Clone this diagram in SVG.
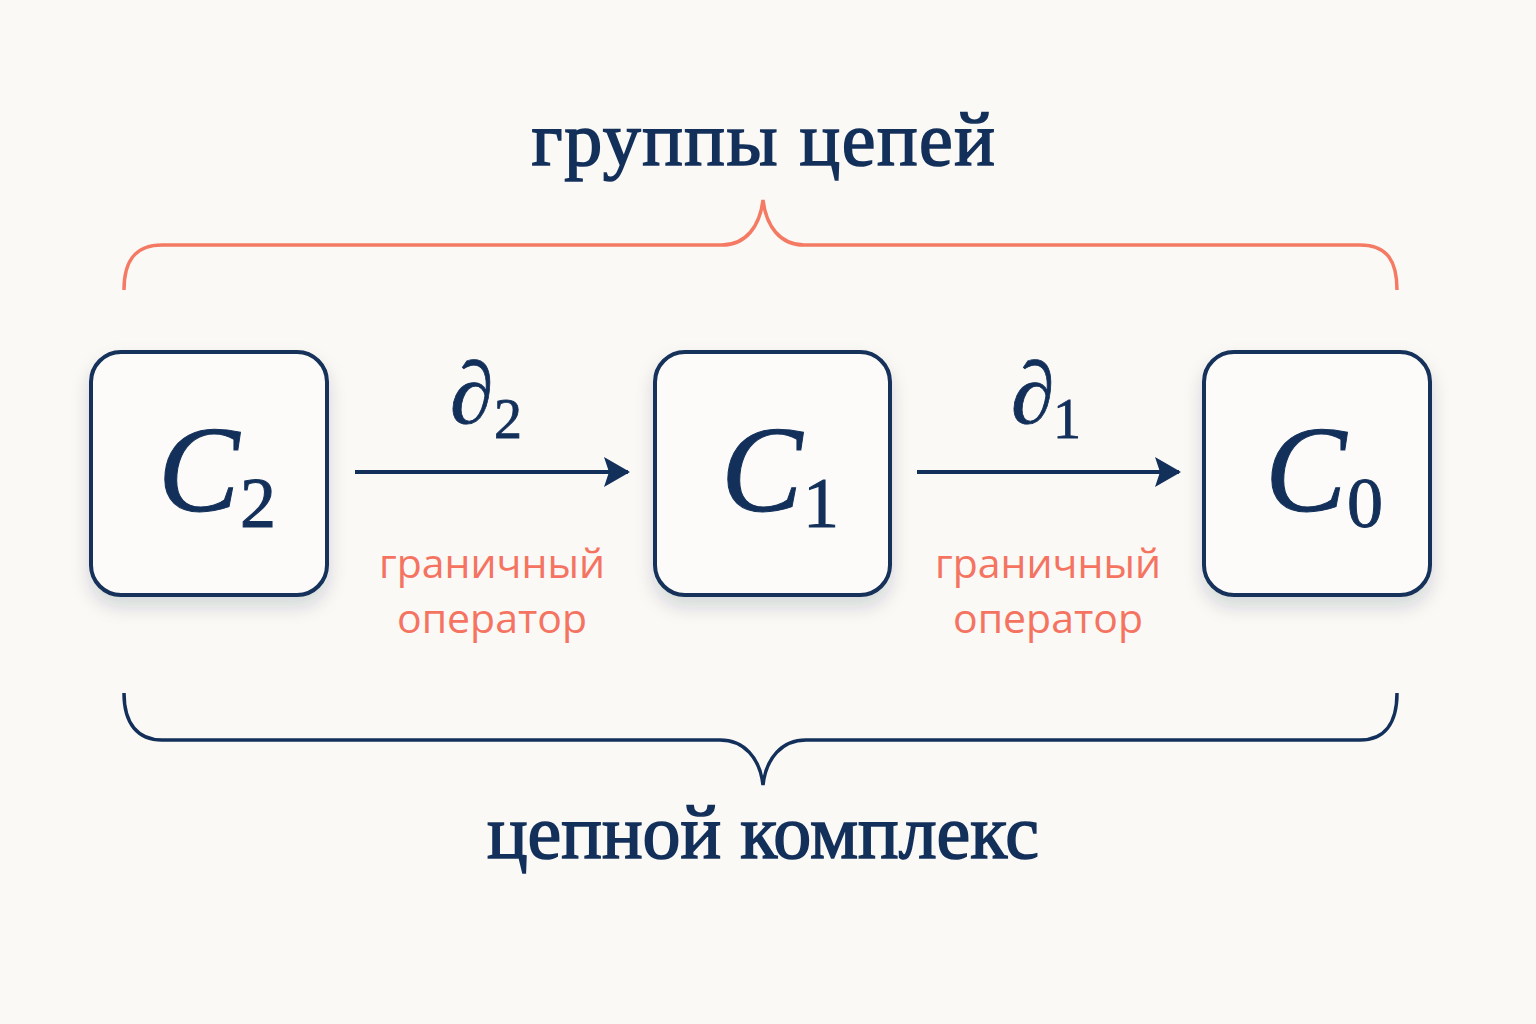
<svg xmlns="http://www.w3.org/2000/svg" width="1536" height="1024" viewBox="0 0 1536 1024">
<defs>
<style>
.box{fill:#fcfbf9;stroke:#13305a;stroke-width:4}
.sym{font-family:"Liberation Serif",serif;fill:#13305a}
.it{font-style:italic}
.lab{font-family:"Open Sans","Noto Sans",sans-serif;font-size:41px;fill:#f47461;text-anchor:middle}
.title{font-family:"Liberation Serif",serif;fill:#13305a;stroke:#13305a;stroke-width:1.6;text-anchor:middle}
.edge{stroke:#13305a;stroke-width:4;fill:none}
</style>
<filter id="sh" x="-20%" y="-20%" width="140%" height="150%">
<feDropShadow dx="0" dy="10" stdDeviation="9" flood-color="#1a2a40" flood-opacity="0.16"/>
</filter>
<marker id="ah" viewBox="0 0 26 30" refX="24" refY="15" markerWidth="26" markerHeight="30" markerUnits="userSpaceOnUse" orient="auto">
<path d="M0,0 L26,15 L0,30 L5,15 Z" fill="#13305a"/>
</marker>
</defs>
<rect width="1536" height="1024" fill="#fbf9f6"/>

<g id="top-brace">
<text class="title" x="764" y="165" font-size="76" letter-spacing="1.5">группы цепей</text>
<path d="M124,290 C124,262 134,245 162,245 L722,245 C746,245 760,226 763,200 C766,226 780,245 804,245 L1360,245 C1388,245 1397,262 1397,290" fill="none" stroke="#f47a63" stroke-width="3.5"/>
</g>

<g id="node-C2">
<rect class="box" x="91" y="352" width="236" height="243" rx="30" filter="url(#sh)"/>
<text class="sym" y="511" stroke="#13305a" stroke-width="1"><tspan class="it" x="158" font-size="122">C</tspan><tspan x="240" y="527" font-size="72">2</tspan></text>
</g>

<g id="node-C1">
<rect class="box" x="655" y="352" width="235" height="243" rx="30" filter="url(#sh)"/>
<text class="sym" y="511" stroke="#13305a" stroke-width="1"><tspan class="it" x="721" font-size="122">C</tspan><tspan x="803" y="527" font-size="72">1</tspan></text>
</g>

<g id="node-C0">
<rect class="box" x="1204" y="352" width="226" height="243" rx="30" filter="url(#sh)"/>
<text class="sym" y="511" stroke="#13305a" stroke-width="1"><tspan class="it" x="1265" font-size="122">C</tspan><tspan x="1347" y="527" font-size="72">0</tspan></text>
</g>

<g id="connectors">
<line class="edge" x1="355" y1="472" x2="628" y2="472" marker-end="url(#ah)"/>
<line class="edge" x1="917" y1="472" x2="1179" y2="472" marker-end="url(#ah)"/>
<text class="sym" y="423" stroke="#13305a" stroke-width="0.8"><tspan class="it" x="450" font-size="88">∂</tspan><tspan x="494" y="438" font-size="56">2</tspan></text>
<text class="sym" y="423" stroke="#13305a" stroke-width="0.8"><tspan class="it" x="1011" font-size="88">∂</tspan><tspan x="1053" y="438" font-size="56">1</tspan></text>
<text class="lab" x="492" y="578">граничный</text>
<text class="lab" x="492" y="633">оператор</text>
<text class="lab" x="1048" y="578">граничный</text>
<text class="lab" x="1048" y="633">оператор</text>
</g>

<g id="bottom-brace">
<path d="M124,693 C124,724 138,740 162,740 L720,740 C744,740 760,758 763,785 C766,758 782,740 806,740 L1360,740 C1384,740 1397,724 1397,693" fill="none" stroke="#13305a" stroke-width="3.5"/>
<text class="title" x="763" y="858" font-size="76">цепной комплекс</text>
</g>
</svg>
